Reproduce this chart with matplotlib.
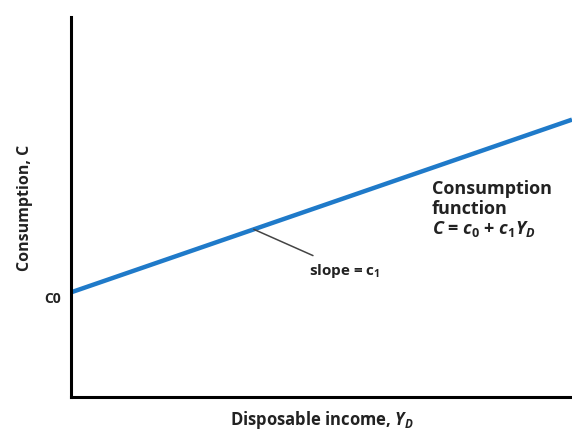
import matplotlib
matplotlib.use('Agg')
import matplotlib.pyplot as plt

plt.rcParams['mathtext.fontset'] = 'custom'
plt.rcParams['mathtext.it'] = 'Open Sans:italic:bold'
plt.rcParams['mathtext.rm'] = 'Open Sans:bold'
plt.rcParams['mathtext.bf'] = 'Open Sans:bold'

# Consumption function parameters
c0 = 2.75
c1 = 0.455
income = [0, 10]
consumption = [c0 + c1 * x for x in income]
slope_point = 3.65

text_color = '#222222'
line_color = '#1f7ac9'
font = 'Open Sans'

fig = plt.figure(figsize=(5.72, 4.31), dpi=100)
ax = fig.add_axes([0.124, 0.077, 0.876, 0.881])
ax.set_xlim(0, 10)
ax.set_ylim(0, 10)

ax.plot(income, consumption, color=line_color, lw=3.2, solid_capstyle='butt', clip_on=False)

# spines
for side in ['top', 'right']:
    ax.spines[side].set_visible(False)
ax.spines['left'].set_linewidth(2.2)
ax.spines['bottom'].set_linewidth(2.2)
ax.set_xticks([])
ax.set_yticks([])

# leader line for slope
sy = c0 + c1 * slope_point
ax.annotate('slope = c$_\\mathbf{1}$', xy=(slope_point, sy), xytext=(4.75, 3.35),
            fontsize=11, fontweight='bold', family=font, color=text_color,
            ha='left', va='center',
            arrowprops=dict(arrowstyle='-', color='#444444', lw=1.1, shrinkA=4, shrinkB=0))

ax.text(7.2, 4.95, 'Consumption\nfunction\n$C$ = $c_0$ + $c_1Y_D$', fontsize=13,
        fontweight='bold', family=font, color=text_color, ha='left', va='center',
        linespacing=1.1)

ax.text(-0.2, c0 - 0.15, 'C0', fontsize=10, fontweight='bold', family=font,
        color=text_color, ha='right', va='center')

ax.set_ylabel('Consumption, C', fontsize=11.5, fontweight='bold', family=font,
              color=text_color, labelpad=27)
ax.set_xlabel('Disposable income, $Y_D$', fontsize=12, fontweight='bold', family=font,
              color=text_color, labelpad=8)

fig.savefig('out.png', dpi=100, facecolor='white')
